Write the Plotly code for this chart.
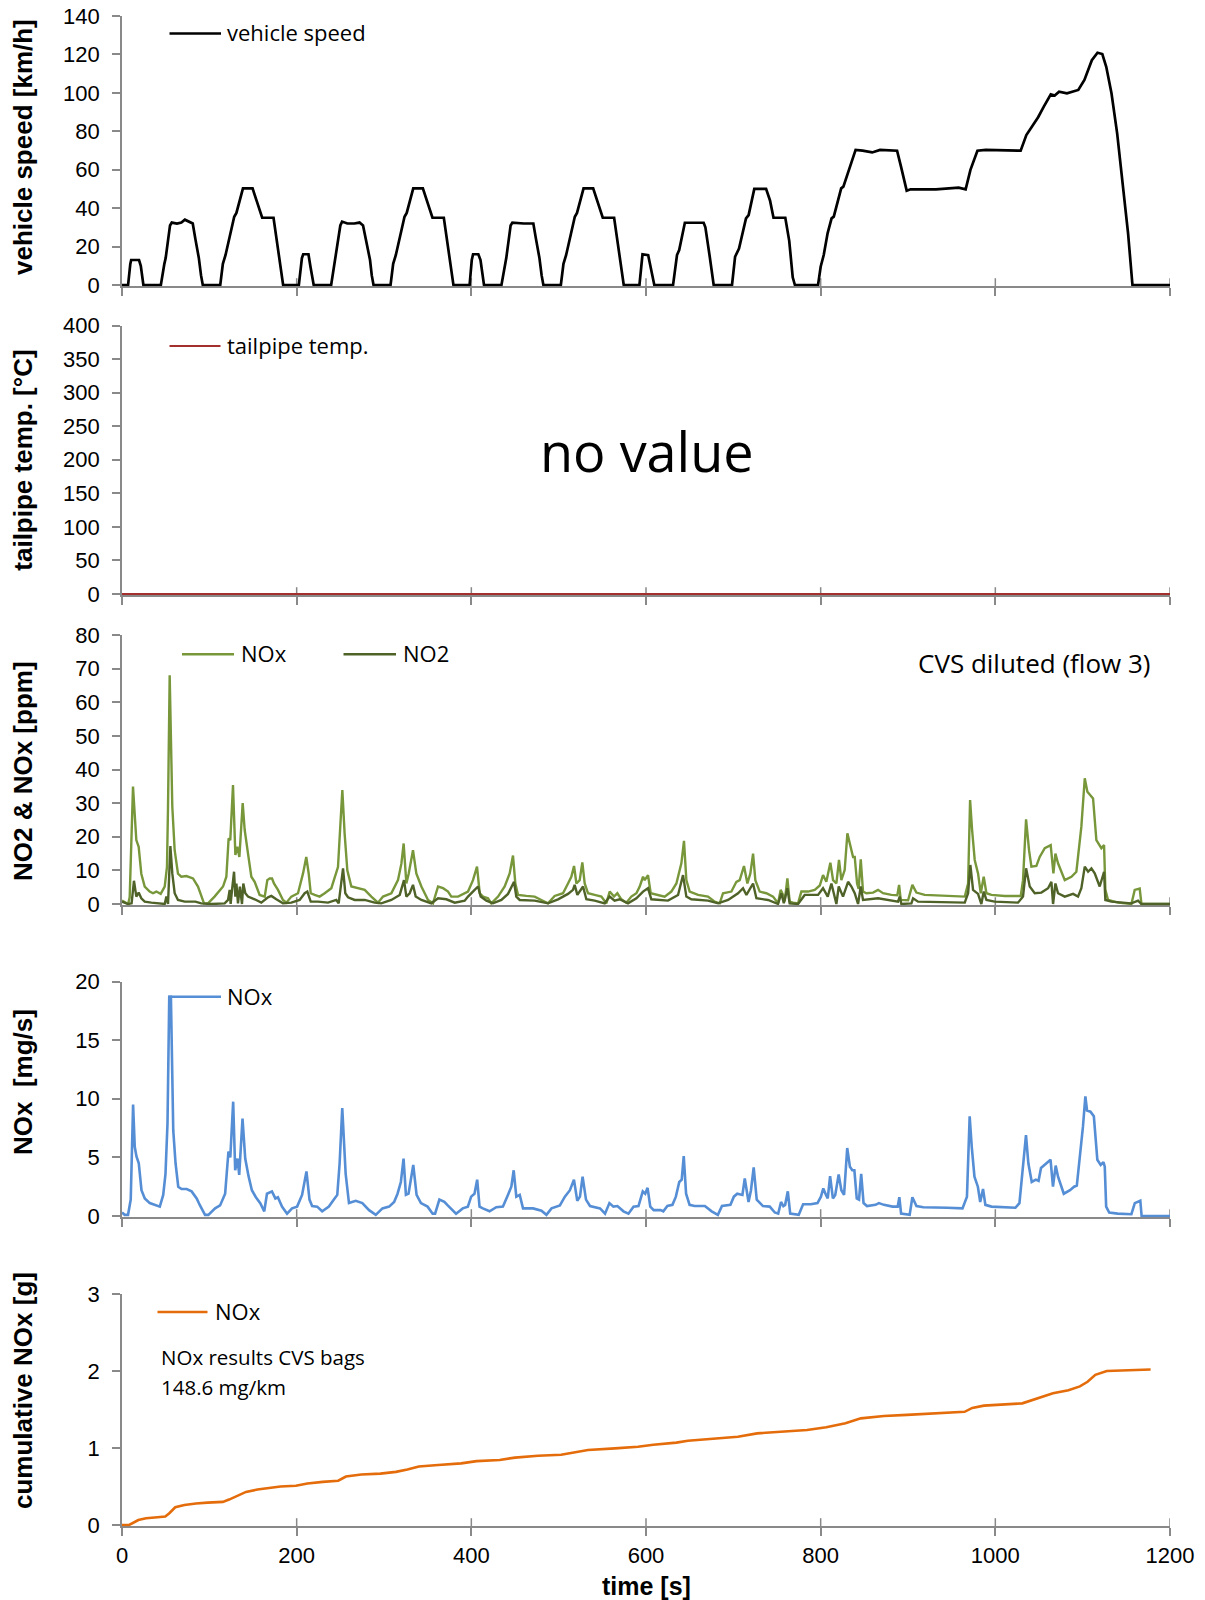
import plotly.graph_objects as go

W, H = 1205, 1600

# ---------------- data ----------------
speed_t = [0, 7, 9.5, 10.5, 19.5, 21.5, 24.5, 44.5, 48.5, 50, 55, 57, 63, 68, 72, 76, 81, 84, 88, 90.5, 92.5,
           112.5, 115.5, 118.5, 128.5, 131, 138.5, 149.5, 154, 160.5, 173.5, 176, 181, 184.5,
           202.5, 206, 207.5, 213.5, 216, 219.5, 239.5, 243, 245, 250, 252, 258, 266, 272, 276, 280, 284, 286, 288,
           307.5, 310.5, 313.5, 323.5, 326, 333.5, 344.5, 349, 355.5, 368.5, 371, 376, 379.5,
           398, 400.5, 402, 408, 410.5, 414.5, 434.5, 438.5, 440, 445, 447, 460, 471, 474, 478, 480.5, 482.5,
           502.5, 505.5, 508.5, 518.5, 521, 528.5, 539.5, 544, 550.5, 563.5, 566, 571, 574.5,
           592.5, 596, 602.5, 605, 609.5, 631, 635.5, 638, 644.5, 666, 668, 673, 677.5,
           698.5, 702, 706.5, 714.5, 717.5, 724, 737.5, 742, 746, 759.5, 764, 768, 770.5,
           797, 800, 803.5, 808, 812.5, 815, 823.5, 826, 840, 848, 859, 868, 887.5, 892, 898.5, 903, 932, 958, 966,
           971.5, 979.5, 989, 1029, 1035.5, 1042, 1049, 1055.5, 1063.5, 1068, 1073, 1082, 1095, 1102, 1110.5,
           1117, 1122.5, 1127, 1133, 1139.5, 1146, 1152, 1157, 1200]
speed_v = [0, 0, 11, 13, 13, 10, 0, 0, 11, 14, 31, 32.5, 32, 32.5, 34, 33, 32, 24, 14, 5, 0,
           0, 11, 15.5, 35.5, 37.5, 50.3, 50.3, 44, 35, 35, 27, 9.5, 0,
           0, 14, 16, 16, 9, 0, 0, 11, 15, 31, 33, 32, 32, 32.5, 31, 22, 13, 5, 0,
           0, 11, 15.5, 35.5, 37.5, 50.3, 50.3, 44, 35, 35, 27, 9.5, 0,
           0, 13, 16, 16, 13, 0, 0, 11, 14, 31, 32.5, 32, 32, 24, 14, 5, 0,
           0, 11, 15.5, 35.5, 37.5, 50.3, 50.3, 44, 35, 35, 27, 9.5, 0,
           0, 16, 15.5, 10, 0, 0, 15.6, 18.2, 32.4, 32.4, 30, 14.7, 0,
           0, 14.7, 19, 34.7, 36.4, 50, 50, 44, 35, 35, 23, 4, 0,
           0, 9.5, 15.6, 27, 34.7, 35.6, 50.3, 51.2, 70.3, 69.9, 69, 70.3, 69.9, 61.6, 49.1, 49.8, 49.8, 50.7, 49.8,
           59.9, 69.9, 70.3, 69.9, 78, 82.4, 87.3, 92.8, 99.2, 98.6, 100.6, 99.8, 101.5, 106.7, 117,
           120.9, 120.2, 113.6, 99.8, 78.9, 51.2, 26.9, 0, 0]

temp_t = [0, 300, 600, 900, 1200]
temp_v = [0, 0, 0, 0, 0]

noxppm_t = [0, 3, 7, 8.8, 12.6, 16.4, 19.1, 22.1, 26, 31.7, 35.5, 39.3, 44.3, 48.9, 51.5, 52.7, 54.6, 57.6, 60.3,
            64.1, 67.9, 73.7, 81.3, 87, 93.9, 98.5, 106, 115.7, 119.5, 122.1, 124, 127.1, 129.8, 132, 134.4, 138.2,
            140.5, 144.3, 148.1, 151.9, 157.6, 163.4, 166.4, 169.1, 171.8, 174, 178.6, 184.3, 188.2, 193.9, 201.5,
            207.3, 211, 213.8, 216.1, 220.6, 226.3, 232.1, 239.7, 247.3, 250.4, 252.3, 254.9, 258, 262.6, 270.2,
            277.9, 285.5, 293.1, 298.9, 308.4, 316, 319.9, 322.5, 325.6, 328.3, 333.2, 337, 342.8, 350.4, 356.1,
            361.9, 367.6, 373.3, 377.1, 384.8, 392.4, 396.2, 401.9, 406.5, 409.6, 413.4, 419.1, 422.9, 430.6,
            438.2, 443.9, 447.7, 450.4, 453.5, 463, 472.5, 480.2, 487.8, 495.4, 505, 510.7, 514.5, 517.6, 520.3,
            524.1, 527.1, 529.8, 533.6, 541.2, 548.9, 554.6, 558.4, 563.4, 567.2, 571.8, 577.5, 583.2, 589, 592.8,
            596.6, 598.5, 602.3, 605.4, 613.8, 621.4, 629, 634.8, 640.5, 643.5, 646.2, 650, 659.6, 671, 678.7,
            684.4, 688.2, 697.8, 703.5, 707.3, 712.2, 716.1, 719.5, 722.6, 725.2, 730.2, 737.8, 745.5, 751.2,
            754.2, 756.9, 758.8, 761.9, 764.5, 768.4, 774.1, 777.9, 785.5, 793.2, 799,
            802.7, 806.5, 811.1, 814.2, 818, 821, 823.7, 827.5, 830.6, 833.3, 837.1, 839, 841.7, 843.5, 845.9,
            848.5, 852.3, 860, 865.7, 871.4, 881, 887.8, 889.8, 891.7, 900.1, 905, 909.6, 919.1, 942, 965, 968.8,
            971.1, 973.4, 976.4, 980.2, 983.3, 986.7, 989.8, 995.5, 1010.8, 1029.1, 1031.7, 1035.2, 1038.6,
            1041.3, 1047, 1050.8, 1056.6, 1063.4, 1066.5, 1068.8, 1071.8, 1079.5, 1087.1, 1092.8, 1098.5, 1102.4,
            1105.4, 1111.9, 1115.7, 1121.4, 1124.5, 1126, 1129.1, 1140.5, 1155.8, 1159.6, 1165.3, 1167.3, 1200]
noxppm_v = [1, 0.5, 0, 2, 34.9, 19, 17, 9, 5.2, 3.7, 3.2, 3.7, 3, 5.2, 11, 29, 68, 29, 16,
            9, 8.1, 8.3, 7.6, 5.2, 0.2, 0.2, 2.2, 5.2, 8.1, 19.5, 19, 35.4, 14.6, 17, 14, 30,
            22, 15, 8.1, 6.6, 2.7, 2.2, 7.1, 7.6, 7.6, 6.1, 4.2, 1.2, 0.4, 2.2, 3.2,
            9.1, 14, 9, 3.2, 2.7, 2.2, 3.2, 4.7, 11, 25, 33.9, 21, 10, 5.2, 4.7,
            4.2, 2.2, 0.4, 2.2, 3.2, 7.1, 12, 18, 6.1, 9.1, 16, 9.1, 5.2, 1.2, 0.2,
            5.2, 4.7, 3.7, 2.2, 2.2, 3.2, 3.7, 7.1, 11.1, 3.2, 2.2, 1.7, 0.2, 2.2,
            5.2, 9.1, 14.4, 6.1, 2.7, 2.4, 2.2, 1.2, 0.2, 2.4, 3.2, 6.1, 8.1, 11.3, 6.1,
            7.1, 12.4, 6.1, 3.2, 2.7, 2.2, 0.2, 3.7, 2.2, 3.2, 1.4, 0.4, 2.2, 3.2, 5.2,
            8.1, 7.1, 8.6, 3.2, 2.7, 2.2, 3.7, 6.1, 12.1, 18.8, 7.1, 3.7, 2.7, 2.2, 0.7,
            0.2, 3.2, 3.7, 6.6, 7.1, 11.3, 6.1, 9.1, 15, 7.1, 3.7, 3.2, 2.2, 0.2,
            4.2, 2.7, 0.8, 7.6, 0.7, 0.4, 0.2, 3.7, 3.7, 4.2, 5.5,
            8.6, 6.6, 12.3, 7.1, 6.1, 13.1, 7.1, 10.1, 21, 18, 14, 14, 6.1, 4.5, 13.3,
            3.7, 3.2, 3.4, 4.2, 3.2, 2.7, 2.6, 5.7, 1.2, 1.1, 5.7, 3.4, 2.7, 2.4, 2.2, 6.1,
            30.9, 22, 13.1, 9.1, 3.2, 8.1, 3.2, 2.7, 2.4, 2.4, 7.1, 25.2, 16,
            11.1, 11.3, 14, 16.6, 17.5, 9.1, 15, 12.1, 7.1, 8.1, 9.6, 23, 37.4,
            33.4, 31.4, 19, 16.6, 17.5, 4.2, 1.2, 0.4, 0, 4.2, 4.6, 0, 0]

no2_t = [0, 6.9, 11, 13.7, 16.4, 19.1, 22.1, 26, 33.6, 41, 48.9, 50.8, 52.7, 55.4, 57.6, 60.3, 64.1, 71.8,
         84, 90.8, 102.3, 117.6, 121.4, 123.3, 124.4, 126, 128.3, 129.8, 131, 132.8, 135, 137.4, 138.9, 141.2,
         144.3, 151.9, 159.5, 167.2, 171, 176.7, 184.3, 193.9, 203.4, 209.2, 212.2, 216.1, 224.4, 235.9, 245.4,
         248.1, 250.5, 253.1, 255.7, 258.8, 266.4, 277.9, 289.3, 296.9, 308.4, 318, 322.9, 325.6, 329.4, 333.2,
         336.3, 342.8, 354.2, 361.9, 371.4, 381, 392.4, 396.2, 403.8, 407.7, 410.7, 417.2, 424.8, 434.4, 442,
         448.9, 451.5, 455.4, 472.5, 487.8, 499.3, 510.7, 516.4, 518.3, 521.4, 527.9, 531.7, 541.2, 552.7,
         558.4, 564, 569.8, 579.4, 589, 596.6, 602.3, 606.1, 625.2, 636.7, 642.4, 646.2, 651.9, 671, 682.5,
         694, 705.4, 711.1, 715, 722.6, 726.4, 739.7, 751.2, 755, 757.8, 761.9, 764.5, 774.1, 781.7, 797,
         802.7, 808.1, 812.3, 818, 820.7, 825.6, 831.4, 835.2, 839, 842.8, 845.9, 848.5, 858.1, 865.7, 888.6,
         890.5, 892.4, 903.9, 905.8, 911.5, 965, 968.8, 971.4, 974.5, 980.2, 984, 986.7, 989.8, 999.3, 1026,
         1031.7, 1035.2, 1039.4, 1045.1, 1052.7, 1060.4, 1064.2, 1066.1, 1068.8, 1071.8, 1079.5, 1089, 1094.7,
         1098.5, 1102.4, 1106.2, 1110, 1113.8, 1119.5, 1124.5, 1126, 1132.9, 1155.8, 1163.4, 1167.3, 1200]
no2_v = [0.7, 0, 0.2, 6.9, 2.2, 3.4, 1.7, 0.7, 0.4, 0.2, 0, 2.2, 0, 17.2, 9.1, 3.2, 1.2, 0.7,
         0.7, 0.2, 0, 0.2, 1.2, 4.2, 0, 4.2, 9.6, 2.2, 6.1, 0.2, 5.2, 0, 6.1, 3.2,
         2.2, 1.4, 0.4, 2, 2.4, 1.4, 0.2, 0.4, 1.2, 3.2, 3.7, 0.7, 0.7, 0.4, 1.2,
         0.2, 5.2, 10.6, 3.2, 2, 1.2, 1.2, 0.4, 0.2, 1.2, 2.7, 7.1, 2.2, 3.2, 5.7,
         2.2, 1.2, 0.2, 1.7, 1.4, 0.4, 1, 2.2, 4.2, 5.2, 2.2, 1, 0.2, 1.2, 3,
         6.6, 2.2, 1.2, 1, 0.2, 1.4, 3, 4.2, 5.7, 2.7, 5.2, 1.4, 1, 0.2,
         2.2, 1, 1.4, 0.2, 1.7, 3.7, 4.7, 1.4, 1, 2.7, 8.6, 2.2, 1.4, 1, 0.2,
         1.2, 3.2, 4.7, 2.7, 6.1, 1.7, 1.2, 0, 3.2, 0.2, 4.7, 0.2, 0, 2.7, 2.7,
         4.7, 2.2, 6.1, 0, 5.2, 2.2, 6.6, 5.2, 3.2, 0, 5.2, 1.2, 1.4, 1.7, 0.7,
         2.2, 0, 0.2, 1.7, 0.7, 0.4, 3.2, 11.6, 4.2, 3, 0, 3.7, 1.2, 0.7, 0.4,
         2.2, 10.6, 5.2, 3.2, 3.4, 4.7, 6.6, 0, 6.1, 3.2, 2.2, 3, 2.2,
         4.7, 11.1, 9.6, 10.6, 9.1, 5.2, 9.6, 1.2, 0.7, 0.2, 1, 0, 0]

noxmg_t = [0, 3.1, 6.9, 10, 12.7, 14.6, 16.5, 19.2, 22.3, 26.1, 31.8, 35.7, 39.5, 43.3, 47.2, 49.8, 52.1, 54.1,
           56, 58.7, 61.3, 64.4, 68.2, 74, 79.7, 85.5, 89.3, 95.1, 98.9, 106.6, 112.3, 118.1, 121.9, 124, 127.3,
           129.6, 132.3, 134.2, 138, 141.1, 144.9, 148.7, 153.3, 158.3, 162.9, 166, 171.7, 175.6, 178.5, 183.2,
           189, 194.7, 200.5, 206.2, 211.2, 214.7, 217.7, 223.5, 229.2, 236.9, 242.6, 246.5, 249.2, 252.2,
           256.1, 259.9, 267.6, 275.2, 282.9, 290.6, 298.2, 305.9, 311.6, 315.5, 319.3, 322.4, 325.1, 328.1,
           333.5, 337.3, 342.3, 349.9, 355.7, 358.5, 363.4, 369.1, 373, 376.8, 382.5, 390.2, 396, 399.8, 403.6,
           406.7, 409.4, 413.2, 420.9, 428.5, 436.2, 441.9, 445.8, 448.5, 451.5, 455.4, 459.2, 470.7, 480.3,
           486, 491.8, 501.4, 507.1, 512.9, 517.5, 521.3, 524.4, 527.4, 531.3, 535.9, 547.4, 553.1, 558.1,
           562.7, 567.3, 574.2, 579.9, 585.7, 591.4, 596.3, 599.1, 601.8, 604.9, 608.8, 616.6, 619.8, 624.5,
           630.3, 634.2, 638.1, 640.9, 643.2, 645.9, 649.9, 655.7, 667.4, 675.2, 682.3, 687, 696.7, 700.6,
           704.5, 710.4, 713.1, 717.4, 720.2, 723.3, 726.8, 733.9, 741.7, 747.5, 751.4, 754.6, 757.3, 759.3,
           762.4, 765.1, 774.9, 779.9, 788.6, 796.4, 800.3, 803, 806.1, 808.1, 810.8, 814, 816.7, 820.6, 823.7,
           826.8, 830.4, 833.5, 836.2, 838.6, 841.3, 843.9, 846.4, 849.1, 853, 862.8, 866.7, 872.5, 882.3,
           888.2, 890.1, 892.1, 901.9, 905, 909.7, 917.5, 944.8, 962.4, 967.5, 970.6, 973, 976.1, 980, 982.7,
           985.9, 988.6, 995.6, 1023, 1027.6, 1031.6, 1035.1, 1037.8, 1041.7, 1046.4, 1049.5, 1052.3, 1057.4,
           1063.2, 1066, 1069.1, 1071.8, 1078.4, 1085.5, 1090.2, 1093.3, 1098, 1100.3, 1103.1, 1105, 1108.9,
           1112.8, 1116.8, 1120.6, 1123.8, 1125.3, 1126.9, 1130.4, 1140.2, 1155.8, 1159.7, 1166, 1167.5, 1200]
noxmg_v = [0.3, 0.1, 0.1, 1.4, 9.5, 5.9, 5.1, 4.5, 2.2, 1.5, 1.1, 1, 0.9, 0.8, 1.8, 3.6, 7.9, 18.7,
           18.7, 7.3, 4.5, 2.5, 2.3, 2.3, 2.1, 1.5, 0.9, 0.1, 0.1, 0.65, 0.9, 1.9, 5.5, 5, 9.75,
           3.9, 4.9, 3.5, 8.3, 4.9, 3.4, 2.2, 1.6, 1.1, 0.4, 1.9, 2.1, 1.5, 1.6, 0.8,
           0.2, 0.65, 0.8, 1.8, 3.8, 1.4, 0.85, 0.8, 0.4, 0.8, 1.4, 1.8, 4.5, 9.2,
           3.6, 1.1, 1.3, 1.1, 0.5, 0.1, 0.65, 0.8, 1.2, 1.9, 2.9, 4.9, 1.8, 1.9,
           4.35, 1.8, 1.1, 0.8, 0.2, 0.2, 1.4, 1.2, 0.9, 0.65, 0.2, 0.65, 0.8, 1.65, 1.9,
           3.1, 0.8, 0.65, 0.4, 0.75, 0.8, 1.8, 2.5, 3.9, 1.65, 1.8, 0.65, 0.65, 0.45,
           0.1, 0.65, 0.9, 1.65, 2.2, 3.1, 1.3, 1.65, 3.35, 1.4, 0.85, 0.65, 0.2, 1.1,
           0.8, 0.85, 0.4, 0.2, 0.8, 0.85, 2.1, 1.9, 2.4, 0.8, 0.5, 0.5, 0.4, 0.85,
           0.95, 1.65, 2.9, 3.1, 5.1, 1.9, 0.95, 0.85, 0.85, 0.4, 0.1, 0.85, 0.95, 1.65,
           1.9, 1.8, 3.2, 1.2, 2.2, 4.15, 1.4, 0.85, 0.8, 0.3, 0.2, 1.2, 0.85, 0.95,
           2.1, 0.2, 0.1, 1, 1, 1.1, 1.65, 2.35, 1.8, 1.5, 3.4, 1.5, 1.8, 3.55, 2.2,
           1.8, 5.8, 4.2, 3.9, 3.9, 1.5, 1.4, 3.6, 1.1, 0.85, 0.95, 1.1, 0.95, 0.8,
           0.8, 1.6, 0.2, 0.1, 1.6, 0.85, 0.75, 0.7, 0.65, 1.65, 8.5, 5.9, 3.35, 2.5, 1.2,
           2.3, 0.95, 0.8, 0.7, 1.1, 4.5, 6.9, 4.5, 2.9, 3.1, 3.0, 4.1, 4.4,
           4.8, 2.5, 4.3, 3.35, 1.9, 2.2, 2.5, 2.6, 5.9, 7.6, 10.2, 9, 8.9,
           8.5, 4.8, 4.35, 4.6, 4.2, 0.8, 0.3, 0.2, 0.15, 1.1, 1.3, 0, 0]

cum_t = [0, 8.2, 18.7, 27.5, 40.7, 49.5, 53.9, 61, 71.5, 84.7, 97.9, 115.5, 122.6, 133.1, 142, 155.1, 168.3,
         181.5, 199.1, 212.3, 229.9, 247.6, 256.4, 274, 295.9, 313.6, 326.8, 339.9, 362, 388.4, 406, 432.4,
         450, 476.4, 502.8, 516, 533.6, 564.4, 590.8, 608.4, 634.8, 648, 687.6, 705.2, 727.2, 758, 784.4,
         806.4, 828.4, 846, 872.4, 898.8, 934, 964.8, 973.6, 986.9, 1030.9, 1044, 1066, 1083.7, 1096.8,
         1105.6, 1114.5, 1127.6, 1154, 1177.8]
cum_v = [0, 0, 0.065, 0.087, 0.1, 0.11, 0.15, 0.23, 0.26, 0.28, 0.29, 0.3, 0.33, 0.385, 0.43, 0.46, 0.485,
         0.5, 0.51, 0.54, 0.56, 0.575, 0.63, 0.655, 0.667, 0.69, 0.72, 0.76, 0.78, 0.8, 0.83, 0.845,
         0.875, 0.9, 0.913, 0.94, 0.975, 0.995, 1.017, 1.043, 1.07, 1.095, 1.125, 1.147, 1.19, 1.21, 1.234,
         1.27, 1.32, 1.385, 1.415, 1.43, 1.45, 1.47, 1.52, 1.55, 1.58, 1.63, 1.71, 1.75, 1.8,
         1.86, 1.95, 2.0, 2.01, 2.02]

x_ticks = [0, 200, 400, 600, 800, 1000, 1200]
y_titles = ["vehicle speed [km/h]", "tailpipe temp. [°C]", "NO2 & NOx [ppm]", "NOx\u00a0\u00a0[mg/s]",
            "cumulative NOx [g]"]
y_ranges = [(0, 140, 20), (0, 400, 50), (0, 80, 10), (0, 20, 5), (0, 3, 1)]

# ---------------- layout geometry (pixels) ----------------
X0, X1 = 122, 1170
panels = [(16, 285), (325.5, 594), (635, 904), (981.5, 1216), (1294, 1525)]
PAD = 1.2  # px below zero so lines on zero are not clipped


def fx(px):
    return px / W


def fy(py):
    return 1 - py / H


AX = "#898989"
TICKFONT = dict(family="Liberation Sans, Arial", size=22, color="#000")
TXTFONT = "Open Sans, Noto Sans, sans-serif"

fig = go.Figure()
series = [
    (1, speed_t, speed_v, "#000000", 2.7, "vehicle speed"),
    (2, temp_t, temp_v, "#A3302C", 2.2, "tailpipe temp."),
    (3, noxppm_t, noxppm_v, "#77973A", 2.4, "NOx"),
    (3, no2_t, no2_v, "#4F6228", 2.4, "NO2"),
    (4, noxmg_t, noxmg_v, "#558ED5", 2.6, "NOx"),
    (5, cum_t, cum_v, "#E46C0A", 2.6, "NOx"),
]
for i, t, v, c, w, name in series:
    sfx = "" if i == 1 else str(i)
    fig.add_trace(go.Scatter(x=t, y=v, mode="lines", name=name, line=dict(color=c, width=w),
                             xaxis="x" + sfx, yaxis="y" + sfx, showlegend=False, hoverinfo="skip"))

layout = dict(width=W, height=H, margin=dict(l=0, r=0, t=0, b=0), paper_bgcolor="white",
              plot_bgcolor="white", showlegend=False)
shapes = []
for k, ((top, bot), (lo, hi, dt)) in enumerate(zip(panels, y_ranges)):
    i = k + 1
    sfx = "" if i == 1 else str(i)
    span = bot - top
    pad_val = PAD * (hi - lo) / span
    layout["xaxis" + sfx] = dict(domain=[fx(X0), fx(X1)], range=[0, 1200], anchor="y" + sfx,
                                 showgrid=False, zeroline=False, showline=True, linecolor=AX, linewidth=1.8,
                                 ticks="outside", ticklen=8, tickwidth=1.5, tickcolor=AX,
                                 tickvals=x_ticks, showticklabels=(i == 5), tickfont=TICKFONT,
                                 ticklabelstandoff=0, layer="below traces", automargin=False)
    layout["yaxis" + sfx] = dict(domain=[fy(bot + PAD), fy(top)], range=[lo - pad_val, hi], anchor="x" + sfx,
                                 showgrid=False, zeroline=False, showline=True, linecolor=AX, linewidth=1.8,
                                 ticks="outside", ticklen=8, tickwidth=1.5, tickcolor=AX,
                                 tickvals=list(range(lo, hi + 1, dt)),
                                 tickfont=TICKFONT, ticklabelstandoff=8, layer="below traces",
                                 automargin=False)
    # inner half of Excel's crossing x ticks
    for tv in x_ticks[1:]:
        shapes.append(dict(type="line", xref="x" + sfx, yref="paper", x0=tv, x1=tv,
                           y0=fy(bot + PAD), y1=fy(bot + PAD - 8), line=dict(color=AX, width=1.5),
                           layer="below"))

annotations = []
title_centers = [147, 460.7, 771, 1082, 1391]
for txt, cy in zip(y_titles, title_centers):
    annotations.append(dict(text=txt, xref="paper", yref="paper", x=fx(23), y=fy(cy), textangle=-90,
                            xanchor="center", yanchor="middle", showarrow=False,
                            font=dict(family="Liberation Sans, Arial", size=26, color="#000", weight="bold")))
annotations.append(dict(text="time [s]", xref="paper", yref="paper", x=fx(646), y=fy(1586),
                        xanchor="center", yanchor="middle", showarrow=False,
                        font=dict(family="Liberation Sans, Arial", size=25, color="#000", weight="bold")))

# legend keys drawn as line samples with labels
legend_items = [
    (169.5, 221, 33.5, "#000000", 2.7, 225, "vehicle speed"),
    (169.5, 220.5, 346, "#A3302C", 2.2, 225, "tailpipe temp."),
    (182, 234, 654.3, "#77973A", 2.4, 239, "NOx"),
    (343.5, 396, 654.3, "#4F6228", 2.4, 400.5, "NO2"),
    (168.5, 221, 996.7, "#558ED5", 2.6, 225, "NOx"),
    (157.5, 207.5, 1312, "#E46C0A", 2.6, 212.5, "NOx"),
]
for x0, x1, yy, c, w, tx, txt in legend_items:
    shapes.append(dict(type="line", xref="paper", yref="paper", x0=fx(x0), x1=fx(x1), y0=fy(yy), y1=fy(yy),
                       line=dict(color=c, width=w)))
    annotations.append(dict(text=txt, xref="paper", yref="paper", x=fx(tx), y=fy(yy - 1), xanchor="left",
                            yanchor="middle", showarrow=False,
                            font=dict(family=TXTFONT, size=22, color="#000")))

annotations.append(dict(text="no value", xref="paper", yref="paper", x=fx(647), y=fy(451), xanchor="center",
                        yanchor="middle", showarrow=False, font=dict(family=TXTFONT, size=54, color="#000")))
annotations.append(dict(text="CVS diluted (flow 3)", xref="paper", yref="paper", x=fx(916), y=fy(663),
                        xanchor="left", yanchor="middle", showarrow=False,
                        font=dict(family=TXTFONT, size=26, color="#000")))
annotations.append(dict(text="NOx results CVS bags", xref="paper", yref="paper", x=fx(159), y=fy(1357),
                        xanchor="left", yanchor="middle", showarrow=False,
                        font=dict(family=TXTFONT, size=20.5, color="#000")))
annotations.append(dict(text="148.6 mg/km", xref="paper", yref="paper", x=fx(159), y=fy(1387),
                        xanchor="left", yanchor="middle", showarrow=False,
                        font=dict(family=TXTFONT, size=20.5, color="#000")))

layout["shapes"] = shapes
layout["annotations"] = annotations
fig.update_layout(**layout)
fig.write_html("out.html")
